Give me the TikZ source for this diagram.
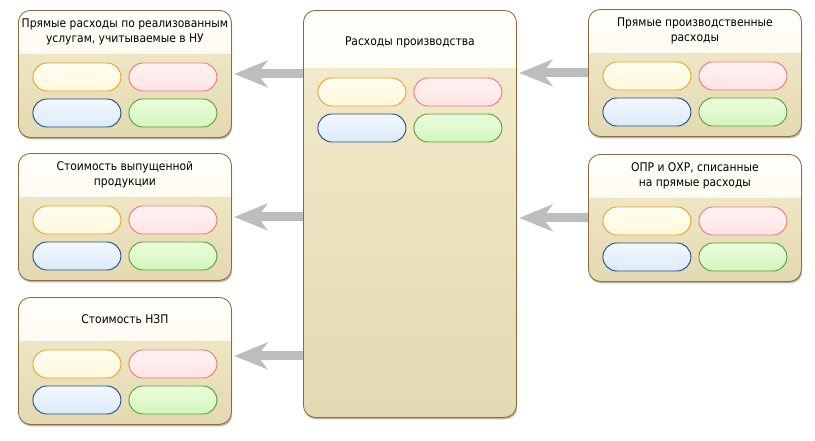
\documentclass[tikz,border=0pt]{standalone}
\usepackage{fontspec}
\setmainfont{DejaVu Sans Condensed}
\usetikzlibrary{positioning,calc,shadows,arrows.meta}

\definecolor{boxline}{HTML}{8C6C3E}
\definecolor{hdrtop}{HTML}{FFFEF9}
\definecolor{hdrbot}{HTML}{FBF6E6}
\definecolor{bodytop}{HTML}{F4ECCD}
\definecolor{bodybot}{HTML}{E3D9B2}
\definecolor{arrgray}{HTML}{BDBDBD}
\definecolor{ylwline}{HTML}{F2A12E}
\definecolor{ylwtop}{HTML}{FFFEF2}
\definecolor{ylwbot}{HTML}{FFF8DC}
\definecolor{redline}{HTML}{EE7B7B}
\definecolor{redtop}{HTML}{FFF2F2}
\definecolor{redbot}{HTML}{FFE4E4}
\definecolor{bluline}{HTML}{274D8A}
\definecolor{blutop}{HTML}{F2F8FF}
\definecolor{blubot}{HTML}{DCEAF8}
\definecolor{grnline}{HTML}{62A032}
\definecolor{grntop}{HTML}{EAFCDD}
\definecolor{grnbot}{HTML}{D3F5BD}

\tikzset{
  box/.style = {draw=boxline, line width=0.7pt, rounded corners=0.36cm,
    minimum width=6.39cm, minimum height=3.81cm, anchor=north west,
    top color=bodytop, bottom color=bodybot,
    drop shadow={shadow xshift=0.6pt, shadow yshift=-1.6pt, fill=boxline!80!black, opacity=0.45},
    path picture={\fill[sharp corners, top color=hdrtop, bottom color=hdrbot]
      (path picture bounding box.north west) rectangle ([yshift=-#1]path picture bounding box.north east);}},
  box/.default = 1.29cm,
  title/.style = {align=center, font=\fontsize{10.2}{13}\selectfont, inner sep=0pt},
  pill/.style = {rounded corners=0.42cm, minimum width=2.64cm, minimum height=0.84cm, line width=0.8pt},
  py/.style = {pill, draw=ylwline, top color=ylwtop, bottom color=ylwbot},
  pr/.style = {pill, draw=redline, top color=redtop, bottom color=redbot},
  pb/.style = {pill, draw=bluline, top color=blutop, bottom color=blubot},
  pg/.style = {pill, draw=grnline, top color=grntop, bottom color=grnbot},
  arr/.style = {arrgray, line width=0.27cm, shorten >=2pt,
    -{Stealth[length=1.0cm, width=0.8cm, inset=0.3cm]}},
}

\begin{document}
\begin{tikzpicture}[x=0.03cm, y=-0.03cm]
  \useasboundingbox (0,0) rectangle (815,440);

  % boxes
  \node [box] (lb1) at (18,10) {};
  \node [box] (lb2) at (18,153) {};
  \node [box] (lb3) at (18,297) {};
  \node [box=1.71cm, minimum height=12.21cm] (mid) at (303,10) {};
  \node [box] (rb1) at (588,9) {};
  \node [box] (rb2) at (588,154) {};

  % titles
  \node [title] at ($(lb1.north)+(0,22)$) {Прямые расходы по реализованным\\услугам, учитываемые в НУ};
  \node [title] at ($(lb2.north)+(0,22)$) {Стоимость выпущенной\\продукции};
  \node [title] at ($(lb3.north)+(0,22)$) {Стоимость НЗП};
  \node [title] at ($(mid.north)+(0,32)$) {Расходы производства};
  \node [title] at ($(rb1.north)+(0,22)$) {Прямые производственные\\расходы};
  \node [title] at ($(rb2.north)+(0,22)$) {ОПР и ОХР, списанные\\на прямые расходы};

  % pills
  \foreach \b in {lb1,lb2,lb3,rb1,rb2} {
    \node [py] (\b-a) at ($(\b.north)+(-48,67)$) {};
    \node [pr] (\b-b) at ($(\b.north)+(48,67)$) {};
    \node [pb] (\b-c) at ($(\b.north)+(-48,103)$) {};
    \node [pg] (\b-d) at ($(\b.north)+(48,103)$) {};
  }
  \node [py] (mid-a) at ($(mid.north)+(-48,82)$) {};
  \node [pr] (mid-b) at ($(mid.north)+(48,82)$) {};
  \node [pb] (mid-c) at ($(mid.north)+(-48,118)$) {};
  \node [pg] (mid-d) at ($(mid.north)+(48,118)$) {};

  % arrows
  \draw [arr] (mid.west |- lb1.east) -- (lb1.east);
  \draw [arr] (mid.west |- lb2.east) -- (lb2.east);
  \draw [arr] ([yshift=0.15cm]mid.west |- lb3.east) -- ([yshift=0.15cm]lb3.east);
  \draw [arr] (rb1.west) -- (mid.east |- rb1.west);
  \draw [arr] (rb2.west) -- (mid.east |- rb2.west);
\end{tikzpicture}
\end{document}
